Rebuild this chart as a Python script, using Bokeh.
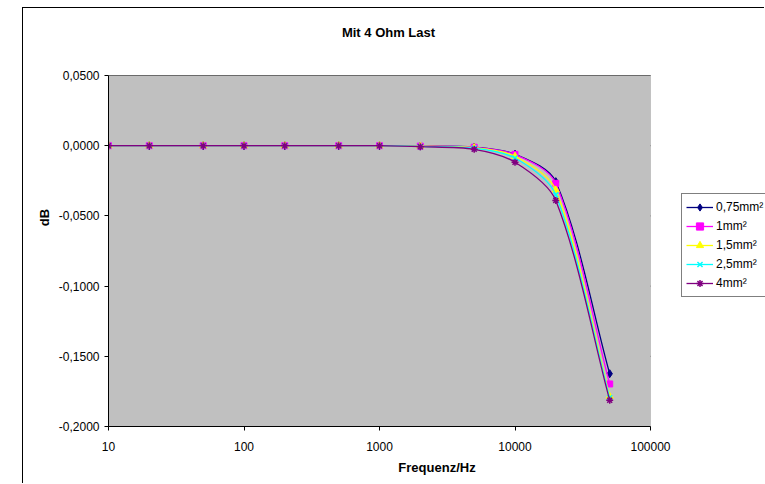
from bokeh.plotting import figure
from bokeh.models import (ColumnDataSource, FixedTicker, Legend, LegendItem,
                          BoxAnnotation, Label)
from bokeh.embed import file_html
from bokeh.resources import INLINE
import math

# ---- data ----
freq = [10, 20, 50, 100, 200, 500, 1000, 2000, 5000, 10000, 20000, 50000]
s_075 = [0, 0, 0, 0, 0, 0, 0, -0.0003, -0.0010, -0.0060, -0.0256, -0.1624]
s_1 = [0, 0, 0, 0, 0, 0, 0, -0.0003, -0.0011, -0.0062, -0.0268, -0.1697]
s_15 = [0, 0, 0, 0, 0, 0, 0, -0.0004, -0.0014, -0.0075, -0.0315, -0.1785]
s_25 = [0, 0, 0, 0, 0, 0, 0, -0.0005, -0.0017, -0.0088, -0.0350, -0.1795]
s_4 = [0, 0, 0, 0, 0, 0, 0, -0.0007, -0.0026, -0.0118, -0.0390, -0.1813]
series_names = ["0,75mm²", "1mm²", "1,5mm²", "2,5mm²", "4mm²"]
series_values = [s_075, s_1, s_15, s_25, s_4]
x_ticks = [10, 100, 1000, 10000, 100000]
x_tick_labels = ["10", "100", "1000", "10000", "100000"]
y_ticks = [0.05, 0.0, -0.05, -0.1, -0.15, -0.2]
y_tick_labels = ["0,0500", "0,0000", "-0,0500", "-0,1000", "-0,1500", "-0,2000"]
title_text = "Mit 4 Ohm Last"
x_title = "Frequenz/Hz"
y_title = "dB"

colors = ["#000080", "#FF00FF", "#FFFF00", "#00FFFF", "#800080"]
markers = ["diamond", "square", "triangle", "x", "asterisk"]
msizes = [8, 6, 7, 7, 7]

FONT = "Liberation Sans"

# ---- layout (pixels) ----
W, H = 742, 476              # canvas (page offset 23, 8 incl. border)
LEFT, BOTTOM = 85, 58         # frame offsets inside canvas
PLOT_W, PLOT_H = 542, 351     # the grey plot area (10..100000, -0.2..0.05)
frame_w = W - LEFT
frame_h = H - BOTTOM
xmin, xmax = x_ticks[0], x_ticks[-1]
ymin, ymax = y_ticks[-1], y_ticks[0]
dec_px = PLOT_W / (math.log10(xmax) - math.log10(xmin))
y_px = PLOT_H / (ymax - ymin)
x_end = 10 ** (math.log10(xmin) + frame_w / dec_px)
y_top = ymin + frame_h / y_px

p = figure(width=W, height=H, x_axis_type="log",
           x_range=(xmin, x_end), y_range=(ymin, y_top),
           output_backend="svg", toolbar_location=None,
           min_border_left=LEFT, min_border_right=0, min_border_top=0,
           min_border_bottom=BOTTOM)
p.styles = {"margin-left": "22px", "margin-top": "7px",
            "border-left": "1px solid #000000", "border-top": "1px solid #000000"}

p.background_fill_color = "white"
p.border_fill_color = "white"
p.outline_line_color = None
p.xgrid.grid_line_color = None
p.ygrid.grid_line_color = None

# grey plot area
p.add_layout(BoxAnnotation(left=xmin, right=xmax, bottom=ymin, top=ymax,
                           fill_color="#C0C0C0", fill_alpha=1,
                           line_color="#808080", line_width=1, level="underlay"))
# horizontal gridlines across the plot area only
p.segment(x0=[xmin] * len(y_ticks), x1=[xmax] * len(y_ticks), y0=y_ticks, y1=y_ticks,
          line_color="black", line_width=1, level="underlay")

p.xaxis.ticker = FixedTicker(ticks=x_ticks)
p.xaxis.major_label_overrides = {t: l for t, l in zip(x_ticks, x_tick_labels)}
p.xaxis.bounds = (xmin, xmax)
p.yaxis.ticker = FixedTicker(ticks=y_ticks)
p.yaxis.major_label_overrides = {t: l for t, l in zip(y_ticks, y_tick_labels)}
p.yaxis.bounds = (ymin, ymax)

for ax in (p.xaxis[0], p.yaxis[0]):
    ax.axis_line_color = "black"
    ax.major_tick_line_color = "black"
    ax.major_tick_out = 4
    ax.major_tick_in = 0
    ax.minor_tick_line_color = None
    ax.major_label_text_font = FONT
    ax.major_label_text_font_size = "12px"
    ax.major_label_text_color = "black"
    ax.axis_label_text_font = FONT
    ax.axis_label_text_font_size = "13px"
    ax.axis_label_text_font_style = "bold"
    ax.axis_label_text_color = "black"

p.xaxis.axis_label = x_title
p.yaxis.axis_label = y_title
p.xaxis.major_label_standoff = 11
p.xaxis.axis_label_standoff = 6
p.yaxis.major_label_standoff = 5
p.yaxis.axis_label_standoff = 4

# chart title (placed 280 px right of the plot's left edge, 43 px above its top)
title_x = 10 ** (math.log10(xmin) + 280 / dec_px)
title_y = ymax + 43 / y_px
p.add_layout(Label(x=title_x, y=title_y, text=title_text, text_align="center",
                   text_baseline="middle", text_font=FONT, text_font_size="13px",
                   text_font_style="bold", text_color="black"))

SMOOTH = 0.3  # control-point distance as a fraction of the segment length


def smooth_segments(xs, ys):
    """Excel-like smoothed line: cubic Bezier segments computed in screen space."""
    sx = [(math.log10(v) - math.log10(xmin)) * dec_px for v in xs]
    sy = [v * y_px for v in ys]
    n = len(sx)
    tan = []
    for i in range(n):
        a = max(i - 1, 0)
        b = min(i + 1, n - 1)
        dx, dy = sx[b] - sx[a], sy[b] - sy[a]
        L = math.hypot(dx, dy) or 1.0
        tan.append((dx / L, dy / L))
    out = dict(x0=[], y0=[], x1=[], y1=[], cx0=[], cy0=[], cx1=[], cy1=[])

    def bx(v):
        return 10 ** (v / dec_px + math.log10(xmin))

    for i in range(n - 1):
        L = math.hypot(sx[i + 1] - sx[i], sy[i + 1] - sy[i]) * SMOOTH
        c1 = (sx[i] + tan[i][0] * L, sy[i] + tan[i][1] * L)
        c2 = (sx[i + 1] - tan[i + 1][0] * L, sy[i + 1] - tan[i + 1][1] * L)
        out["x0"].append(xs[i]); out["y0"].append(ys[i])
        out["x1"].append(xs[i + 1]); out["y1"].append(ys[i + 1])
        out["cx0"].append(bx(c1[0])); out["cy0"].append(c1[1] / y_px)
        out["cx1"].append(bx(c2[0])); out["cy1"].append(c2[1] / y_px)
    return out


items = []
for name, vals, c, m, ms in zip(series_names, series_values, colors, markers, msizes):
    bsrc = ColumnDataSource(smooth_segments(freq, vals))
    br = p.bezier(x0="x0", y0="y0", x1="x1", y1="y1", cx0="cx0", cy0="cy0",
                  cx1="cx1", cy1="cy1", source=bsrc, line_color=c, line_width=1.3)
    src = ColumnDataSource(dict(x=freq, y=vals))
    sr = p.scatter(x="x", y="y", source=src, marker=m, size=ms,
                   fill_color=c, line_color=c, line_width=1.5 if m in ("x", "asterisk") else 1)
    items.append(LegendItem(label=name, renderers=[br, sr], index=0))

legend = Legend(items=items, location=(573, 129))
legend.border_line_color = "black"
legend.border_line_width = 1
legend.background_fill_color = "white"
legend.background_fill_alpha = 1
legend.label_text_font = FONT
legend.label_text_font_size = "12px"
legend.label_text_color = "black"
legend.glyph_width = 27
legend.glyph_height = 18
legend.label_height = 18
legend.label_standoff = 3
legend.spacing = 1
legend.padding = 4
legend.margin = 0
p.add_layout(legend, "center")

open("out.html", "w").write(file_html(p, INLINE))
